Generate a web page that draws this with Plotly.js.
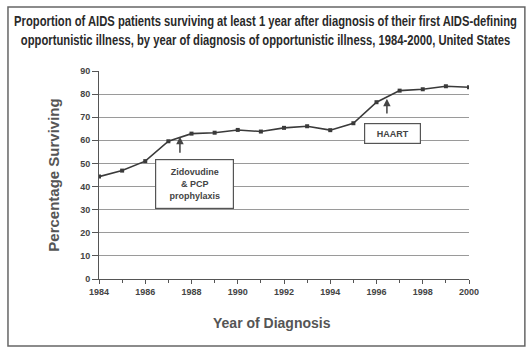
<!DOCTYPE html>
<html><head><meta charset="utf-8">
<script src="https://cdn.plot.ly/plotly-3.0.1.min.js"></script>
<style>html,body{margin:0;padding:0;background:#fff}#c{width:531px;height:353px}</style>
</head><body><div id="c"></div>
<script>
var years = [1984,1985,1986,1987,1988,1989,1990,1991,1992,1993,1994,1995,1996,1997,1998,1999,2000];
var surviving = [44.3,46.9,51,59.6,62.9,63.3,64.5,63.8,65.4,66.1,64.4,67.4,76.5,81.5,82.1,83.4,83.0];
var titleText = "Proportion of AIDS patients surviving at least 1 year after diagnosis of their first AIDS-defining<br>opportunistic illness, by year of diagnosis of opportunistic illness, 1984-2000, United States";
var xTickVals = [1984,1986,1988,1990,1992,1994,1996,1998,2000];
var yTickVals = [0,10,20,30,40,50,60,70,80,90];
var notes = ["Zidovudine<br>& PCP<br>prophylaxis", "HAART"];
var xTitle = "Year of Diagnosis";
var yTitle = "Percentage Surviving";

var sans = "Liberation Sans, Arial, sans-serif";
var trace = {x: years, y: surviving, type: 'scatter', mode: 'lines+markers',
  line: {color: '#3a3a3a', width: 1.6},
  marker: {symbol: 'square', size: 4, color: '#3a3a3a'}, hoverinfo: 'skip'};

var layout = {
  width: 531, height: 353,
  margin: {l: 99, r: 62, t: 71, b: 74},
  paper_bgcolor: '#ffffff', plot_bgcolor: '#ffffff',
  showlegend: false,
  title: {text: titleText, xref: 'container', x: 0.5, xanchor: 'center', yref: 'container', y: 0.925, yanchor: 'middle',
    font: {family: sans, size: 14, color: '#2a2a2a', weight: 'bold'}},
  xaxis: {range: [1984, 2000], tickvals: xTickVals, ticktext: xTickVals.map(String),
    showgrid: false, zeroline: false, showline: true, linecolor: '#555', linewidth: 1,
    ticks: 'outside', ticklen: 4, tickcolor: '#555',
    minor: {tickvals: years, ticks: 'outside', ticklen: 3, tickcolor: '#555'},
    tickfont: {family: sans, size: 9, color: '#444', weight: 'bold'}},
  yaxis: {range: [0, 90], tickvals: yTickVals, showgrid: true, gridcolor: '#9a9a9a', gridwidth: 1,
    zeroline: false, showline: true, linecolor: '#555', linewidth: 1,
    ticks: 'outside', ticklen: 6, tickcolor: '#555',
    tickfont: {family: sans, size: 9, color: '#444', weight: 'bold'},
    title: {text: yTitle, standoff: 16, font: {family: sans, size: 15, color: '#555', weight: 'bold'}}},
  shapes: [{type: 'rect', xref: 'paper', yref: 'paper', x0: -0.246, x1: 1.151, y0: -0.322, y1: 1.308,
    line: {color: '#666', width: 1.5}}],
  annotations: [
    {x: 0.4676, y: -0.2115, xref: 'paper', yref: 'paper', xanchor: 'center', yanchor: 'middle',
      text: xTitle, showarrow: false, font: {family: sans, size: 14, color: '#555', weight: 'bold'}},
    {x: 1988.13, y: 41.1, xref: 'x', yref: 'y', text: notes[0], showarrow: false,
      width: 73, height: 44, bordercolor: '#555', borderwidth: 1.2, borderpad: 2, bgcolor: '#fff',
      font: {family: sans, size: 9, color: '#444', weight: 'bold'}},
    {x: 1996.69, y: 62.96, xref: 'x', yref: 'y', text: notes[1], showarrow: false,
      width: 51, height: 15, bordercolor: '#555', borderwidth: 1.2, borderpad: 2, bgcolor: '#fff',
      font: {family: sans, size: 9, color: '#444', weight: 'bold'}},
    {x: 1987.5, y: 61.5, ax: 1987.5, ay: 54, xref: 'x', yref: 'y', axref: 'x', ayref: 'y', text: '',
      showarrow: true, arrowhead: 2, arrowsize: 1, arrowwidth: 1.5, arrowcolor: '#444'},
    {x: 1996.45, y: 78, ax: 1996.45, ay: 71, xref: 'x', yref: 'y', axref: 'x', ayref: 'y', text: '',
      showarrow: true, arrowhead: 2, arrowsize: 1, arrowwidth: 1.5, arrowcolor: '#444'}
  ]
};
Plotly.newPlot('c', [trace], layout, {staticPlot: true}).then(function(gd){
  var t = gd.querySelector('.gtitle');
  if (t) {
    var bb = t.getBBox();
    var target = 503;
    var s = Math.min(1, target / bb.width);
    var cx = bb.x + bb.width / 2;
    t.setAttribute('transform', 'translate(' + cx + ',0) scale(' + s + ',1) translate(' + (-cx) + ',0)');
  }
});
</script></body></html>
